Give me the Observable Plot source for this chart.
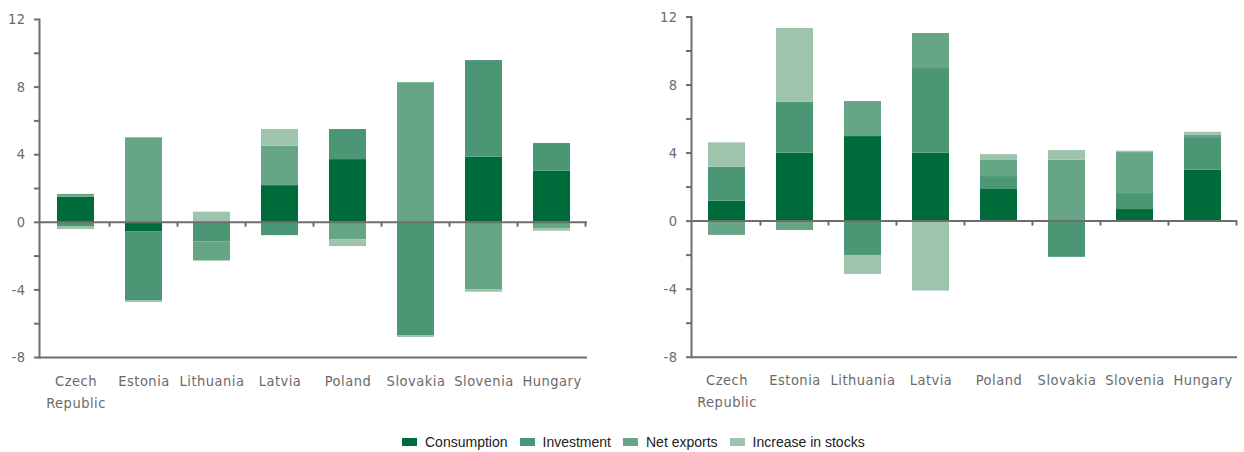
<!DOCTYPE html>
<html>
<head>
<meta charset="utf-8">
<script src="https://cdn.jsdelivr.net/npm/d3@7"></script>
<script src="https://cdn.jsdelivr.net/npm/@observablehq/plot@0.6"></script>
<style>
  body { margin: 0; background: #fff; }
  #wrap { position: relative; width: 1244px; height: 452px; }
  #charts { display: flex; }
  #charts svg text { letter-spacing: 0.5px; }
  #legend { position: absolute; top: 434px; left: 402px; display: flex; align-items: center;
            font-family: "Liberation Sans", Arial, sans-serif; font-size: 14px; color: #222; }
  .item { display: flex; align-items: center; margin-right: 12px; }
  .sw { width: 15px; height: 8px; margin-right: 8px; }
</style>
</head>
<body>
<div id="wrap">
  <div id="charts"></div>
  <div id="legend"></div>
</div>
<script>
const categories = ["Czech Republic", "Estonia", "Lithuania", "Latvia", "Poland", "Slovakia", "Slovenia", "Hungary"];
const seriesNames = ["Consumption", "Investment", "Net exports", "Increase in stocks"];
const seriesColors = ["#006b3a", "#4b9775", "#66a586", "#9fc4ae"];
const yTicks = [-8, -6, -4, -2, 0, 2, 4, 6, 8, 10, 12];

// Left panel
const leftConsumption = [1.48, -0.55, 0, 2.17, 3.71, 0, 3.85, 3.02];
const leftInvestment  = [-0.25, -4.08, -1.17, -0.79, 1.78, -6.70, 5.72, 1.64];
const leftNetExports  = [0.17, 5.00, -1.12, 2.33, -1.03, 8.26, -3.98, -0.37];
const leftStocks      = [-0.18, -0.12, 0.60, 0.99, -0.41, -0.12, -0.16, -0.16];

// Right panel
const rightConsumption = [1.17, 4.00, 4.97, 4.00, 1.86, 0, 0.68, 2.99];
const rightInvestment  = [2.00, 3.00, -2.02, 4.97, 0.76, -2.13, 0.94, 1.92];
const rightNetExports  = [-0.84, -0.55, 2.06, 2.06, 0.98, 3.58, 2.41, 0.16];
const rightStocks      = [1.43, 4.33, -1.12, -4.11, 0.31, 0.57, 0.08, 0.15];

function toRows(arrays) {
  const rows = [];
  categories.forEach((c, i) => {
    arrays.forEach((arr, s) => rows.push({country: c, series: seriesNames[s], value: arr[i]}));
  });
  return rows;
}

const axisColor = "#6e6e6e";
const labelColor = "#6a6a6a";
const fontFamily = '"DejaVu Sans Condensed", "Liberation Sans Narrow", sans-serif';
const fontSize = 14.5;

function boundaryTicks(index, scales) {
  const x = scales.x, y = scales.y;
  const bw = typeof x.bandwidth === "function" ? x.bandwidth() : x.bandwidth;
  const step = x(categories[1]) - x(categories[0]);
  const g = d3.create("svg:g");
  categories.forEach(c => {
    const px = x(c) + bw + (step - bw) / 2;
    g.append("line").attr("x1", px).attr("x2", px)
      .attr("y1", y(0)).attr("y2", y(0) + 5)
      .attr("stroke", axisColor).attr("stroke-width", 2);
  });
  return g.node();
}

function panel(rows, m) {
  return Plot.plot({
    width: 622,
    height: 420,
    marginLeft: m.left,
    marginRight: m.right,
    marginTop: m.top,
    marginBottom: m.bottom,
    style: {fontFamily, fontSize: fontSize + "px", color: labelColor, background: "white"},
    x: {domain: categories, paddingInner: 0.46, paddingOuter: 0.23, label: null},
    y: {domain: [-8, 12], label: null},
    color: {domain: seriesNames, range: seriesColors},
    marks: [
      Plot.barY(rows, {x: "country", y: "value", fill: "series"}),
      Plot.ruleY([0, -8], {stroke: axisColor, strokeWidth: 2}),
      Plot.frame({anchor: "left", stroke: axisColor, strokeWidth: 2}),
      boundaryTicks,
      Plot.axisY({ticks: yTicks, tickSize: 5, tickPadding: 9, stroke: axisColor, strokeWidth: 2,
        fill: labelColor, fontSize, fontFamily,
        tickFormat: d => d % 4 === 0 ? (d < 0 ? "-" + Math.abs(d) : String(d)) : ""}),
      Plot.axisX({tickSize: 0, tickPadding: 12.5, lineHeight: 1.52, fill: labelColor, fontSize, fontFamily,
        tickFormat: d => d === "Czech Republic" ? "Czech\nRepublic" : d})
    ]
  });
}

const charts = document.getElementById("charts");
charts.appendChild(panel(toRows([leftConsumption, leftInvestment, leftNetExports, leftStocks]),
  {left: 39, right: 35, top: 19, bottom: 63}));
charts.appendChild(panel(toRows([rightConsumption, rightInvestment, rightNetExports, rightStocks]),
  {left: 69, right: 7, top: 16.5, bottom: 63.3}));

const legend = document.getElementById("legend");
seriesNames.forEach((name, i) => {
  const item = document.createElement("div");
  item.className = "item";
  const sw = document.createElement("span");
  sw.className = "sw";
  sw.style.background = seriesColors[i];
  const t = document.createElement("span");
  t.textContent = name;
  item.appendChild(sw); item.appendChild(t);
  legend.appendChild(item);
});
</script>
</body>
</html>
